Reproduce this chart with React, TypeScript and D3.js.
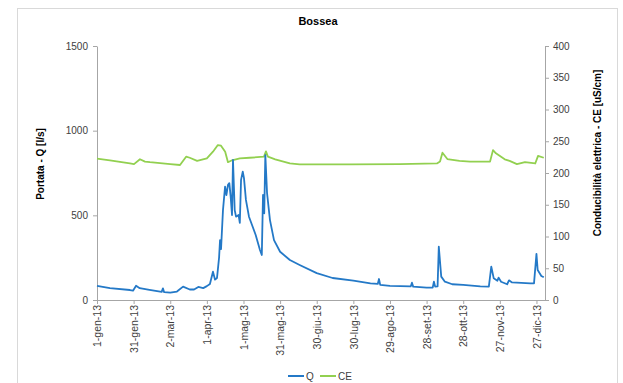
import { useEffect, useRef } from "react"
import * as d3 from "d3"

// giorno dell'anno (0 = 1-gen-13) e portata Q [l/s]
const qDays = [0, 10.6, 27, 29.5, 32, 35, 43, 53, 54, 55, 60, 65.5, 70.5, 76, 79.5, 83, 87, 90, 92.5, 95, 96.7, 98.3, 100, 100.8, 101.6, 103.2, 104.9, 106, 107.3, 108.4, 109.5, 110.6, 111.4, 112.8, 113.9, 116, 117, 118, 119.4, 120.4, 122, 124.5, 127, 130, 133.5, 135, 136, 137, 137.9, 139.3, 141.7, 145, 150, 158, 166, 180, 193, 210, 224, 230, 231, 232, 240, 257, 258, 259, 270, 275, 276, 277, 279, 280, 282, 285, 291, 300, 314, 321, 323, 325, 328, 329, 331, 336, 337.5, 340, 355, 358, 360, 361, 364, 366]
const qValues = [84, 70, 59, 55, 84, 70, 60, 48, 69, 46, 43, 50, 79, 62, 62, 77, 70, 82, 95, 167, 120, 130, 250, 354, 300, 531, 669, 620, 680, 690, 610, 502, 827, 531, 492, 502, 455, 709, 758, 720, 591, 492, 443, 384, 295, 266, 620, 512, 856, 632, 472, 354, 285, 236, 207, 159, 130, 114, 98, 95, 124, 89, 84, 80, 102, 79, 73, 73, 108, 79, 80, 315, 138, 108, 93, 89, 81, 79, 197, 128, 114, 132, 108, 93, 116, 104, 98, 98, 272, 177, 142, 134]

// giorno dell'anno e conducibilità CE [uS/cm]
const ceDays = [0, 10.6, 27, 30.3, 35.2, 39.3, 43.4, 60, 68, 73, 76, 82, 90, 95, 99, 101.6, 105, 107.3, 110.6, 117, 125, 136.8, 138.4, 140, 146, 158, 166, 207, 248, 278.5, 281, 283, 287, 297, 305.6, 322, 324.4, 326.8, 334, 338, 344, 350.6, 359, 361.3, 366]
const ceValues = [222.6, 220, 215, 214, 221.6, 218, 217, 214, 212.6, 225.7, 224, 219, 223, 233.6, 244, 243, 233.6, 217, 220, 223, 224, 225.7, 234, 225.7, 221.6, 215, 213.7, 213.7, 214, 215, 218, 232, 222, 219, 218, 218, 236, 231, 221.6, 219, 214, 217, 215, 227, 224]

const xTickDays = [0, 30, 60, 90, 120, 150, 180, 210, 240, 270, 300, 330, 360]
const xTickLabels = ["1-gen-13", "31-gen-13", "2-mar-13", "1-apr-13", "1-mag-13", "31-mag-13", "30-giu-13", "30-lug-13", "29-ago-13", "28-set-13", "28-ott-13", "27-nov-13", "27-dic-13"]
const leftTicks = [0, 500, 1000, 1500]
const rightTicks = [0, 50, 100, 150, 200, 250, 300, 350, 400]

const seriesNames = ["Q", "CE"]
const seriesColors = ["#2479c7", "#92d050"]

const W = 623
const H = 383
const M = { left: 97, right: 78, top: 46, bottom: 83 }

const App = () => {
  const svgRef = useRef<SVGSVGElement>(null)

  useEffect(() => {
    const svg = d3.select(svgRef.current)
    svg.selectAll("*").remove()
    svg.attr("font-family", "'Liberation Sans', Arial, sans-serif")

    const x = d3.scaleLinear().domain([0, 367]).range([M.left, W - M.right])
    const yL = d3.scaleLinear().domain([0, 1500]).range([H - M.bottom, M.top])
    const yR = d3.scaleLinear().domain([0, 400]).range([H - M.bottom, M.top])

    // cornice
    svg.append("rect")
      .attr("x", 17.5).attr("y", 8.5)
      .attr("width", 600).attr("height", 400)
      .attr("fill", "#fff").attr("stroke", "#d9d9d9")

    // titolo
    svg.append("text")
      .attr("x", 318).attr("y", 25)
      .attr("text-anchor", "middle")
      .attr("font-weight", "bold").attr("font-size", 11)
      .attr("fill", "#000")
      .text("Bossea")

    const styleAxis = (g: any, size: number) => {
      g.select(".domain").attr("stroke", "#a6a6a6")
      g.selectAll(".tick line").attr("stroke", "#a6a6a6")
      g.selectAll(".tick text").attr("fill", "#404040").attr("font-size", size)
    }

    // asse sinistro
    svg.append("g")
      .attr("transform", `translate(${M.left},0)`)
      .call(d3.axisLeft(yL).tickValues(leftTicks).tickFormat(d3.format("d"))
        .tickSize(4).tickSizeOuter(0).tickPadding(5))
      .call((g: any) => styleAxis(g, 10))

    // asse destro
    svg.append("g")
      .attr("transform", `translate(${W - M.right},0)`)
      .call(d3.axisRight(yR).tickValues(rightTicks).tickFormat(d3.format("d"))
        .tickSize(4).tickSizeOuter(0).tickPadding(4))
      .call((g: any) => styleAxis(g, 10))

    // asse x
    svg.append("g")
      .attr("transform", `translate(0,${H - M.bottom})`)
      .call(d3.axisBottom(x).tickValues(xTickDays).tickSize(4).tickSizeOuter(0)
        .tickFormat((_d: any, i: number) => xTickLabels[i]))
      .call((g: any) => styleAxis(g, 10.5))
      .call((g: any) => g.selectAll(".tick text")
        .attr("transform", "rotate(-90)")
        .attr("text-anchor", "end")
        .attr("x", -5).attr("y", 0).attr("dy", "0.35em"))

    // titoli assi
    svg.append("text")
      .attr("transform", `translate(44,164) rotate(-90)`)
      .attr("text-anchor", "middle")
      .attr("font-weight", "bold").attr("font-size", 10)
      .text("Portata - Q [l/s]")

    svg.append("text")
      .attr("transform", `translate(601,153) rotate(-90)`)
      .attr("text-anchor", "middle")
      .attr("font-weight", "bold").attr("font-size", 10)
      .text("Conducibilità elettrica - CE [uS/cm]")

    // linee
    const lineQ = d3.line<number>().x((_d, i) => x(qDays[i])).y(d => yL(d))
    const lineCE = d3.line<number>().x((_d, i) => x(ceDays[i])).y(d => yR(d))

    svg.append("path")
      .attr("d", lineCE(ceValues))
      .attr("fill", "none").attr("stroke", seriesColors[1]).attr("stroke-width", 1.8)
      .attr("stroke-linejoin", "round")

    svg.append("path")
      .attr("d", lineQ(qValues))
      .attr("fill", "none").attr("stroke", seriesColors[0]).attr("stroke-width", 1.8)
      .attr("stroke-linejoin", "round")

    // legenda
    const legend = svg.append("g").attr("transform", "translate(288,376)")
    seriesNames.forEach((name, i) => {
      const g = legend.append("g").attr("transform", `translate(${i * 32},0)`)
      g.append("line").attr("x1", 0).attr("x2", 16).attr("y1", 0).attr("y2", 0)
        .attr("stroke", seriesColors[i]).attr("stroke-width", 2)
      g.append("text").attr("x", 18).attr("y", 0).attr("dy", "0.35em")
        .attr("font-size", 10).attr("fill", "#404040").text(name)
    })
  }, [])

  return (
    <svg ref={svgRef} width={W} height={H}
      style={{ position: "absolute", left: 0, top: 0, background: "#fff" }} />
  )
}

export default App
